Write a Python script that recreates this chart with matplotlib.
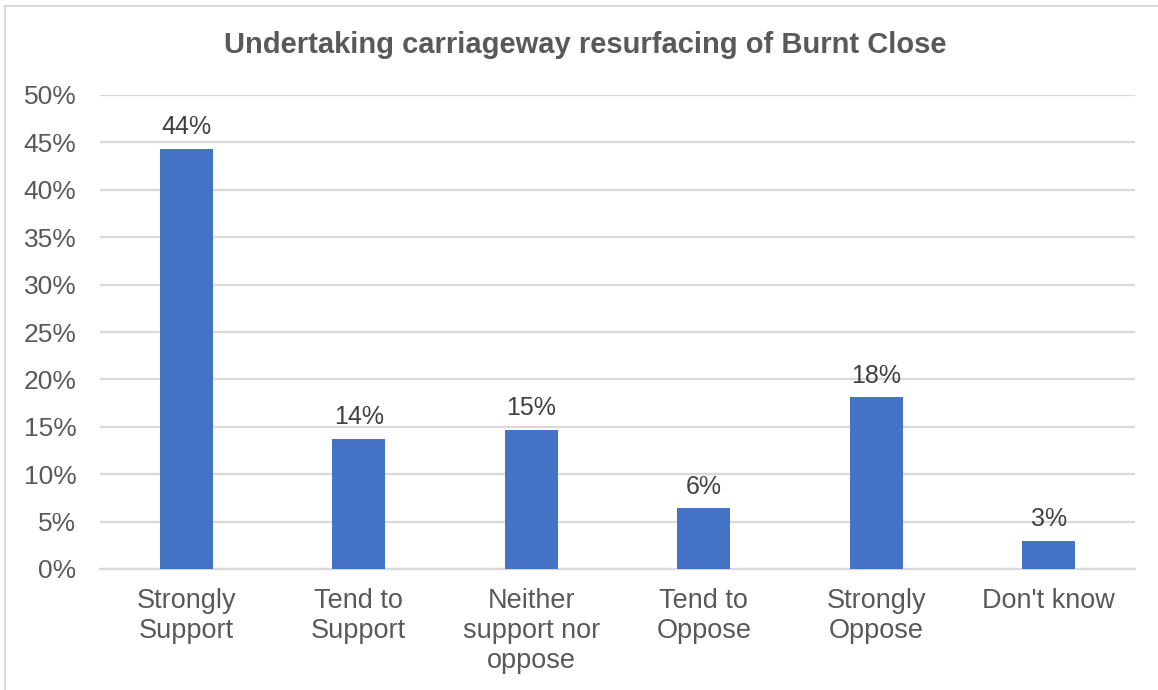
import matplotlib.pyplot as plt
from matplotlib.lines import Line2D

# survey responses (share of respondents, %)
categories = ["Strongly\nSupport", "Tend to\nSupport", "Neither\nsupport nor\noppose",
              "Tend to\nOppose", "Strongly\nOppose", "Don't know"]
values = [44.3, 13.7, 14.7, 6.4, 18.1, 3.0]
yticks = [0, 5, 10, 15, 20, 25, 30, 35, 40, 45, 50]

plt.rcParams['font.family'] = ['Liberation Sans', 'DejaVu Sans']

W, H = 1158, 690
fig = plt.figure(figsize=(W / 100, H / 100), dpi=100)
ax = fig.add_axes([100 / W, 1 - 569 / H, 1035 / W, 474 / H])

x = range(len(categories))
ax.bar(x, values, width=0.31, color="#4472c4", zorder=3)
for i, v in zip(x, values):
    ax.annotate(f"{v:.0f}%", (i, v), xytext=(0, 7), textcoords="offset points",
                ha="center", va="bottom", fontsize=18, color="#404040")

ax.set_xlim(-0.5, len(categories) - 0.5)
ax.set_ylim(0, 50)
ax.set_yticks(yticks)
ax.set_yticklabels([f"{t}%" for t in yticks])
ax.set_xticks(list(x))
ax.set_xticklabels(categories, linespacing=1.2)
ax.tick_params(axis="both", length=0, colors="#595959")
ax.tick_params(axis="y", labelsize=19, pad=17)
ax.tick_params(axis="x", labelsize=19.5, pad=14)
ax.grid(axis="y", color="#d9d9d9", lw=1.6, zorder=0)
for s in ["top", "right", "left"]:
    ax.spines[s].set_visible(False)
ax.spines["bottom"].set_color("#d9d9d9")
ax.spines["bottom"].set_linewidth(1.6)

fig.text(585 / W, 1 - 45 / H, "Undertaking carriageway resurfacing of Burnt Close",
         ha="center", va="center", fontsize=21, fontweight="bold", color="#595959")

# outer chart frame (top and left edges)
fig.add_artist(Line2D([5 / W, 1], [1 - 6 / H, 1 - 6 / H], color="#d9d9d9", lw=1.5))
fig.add_artist(Line2D([5 / W, 5 / W], [0, 1 - 6 / H], color="#d9d9d9", lw=1.5))

fig.savefig("out.png", dpi=100)
